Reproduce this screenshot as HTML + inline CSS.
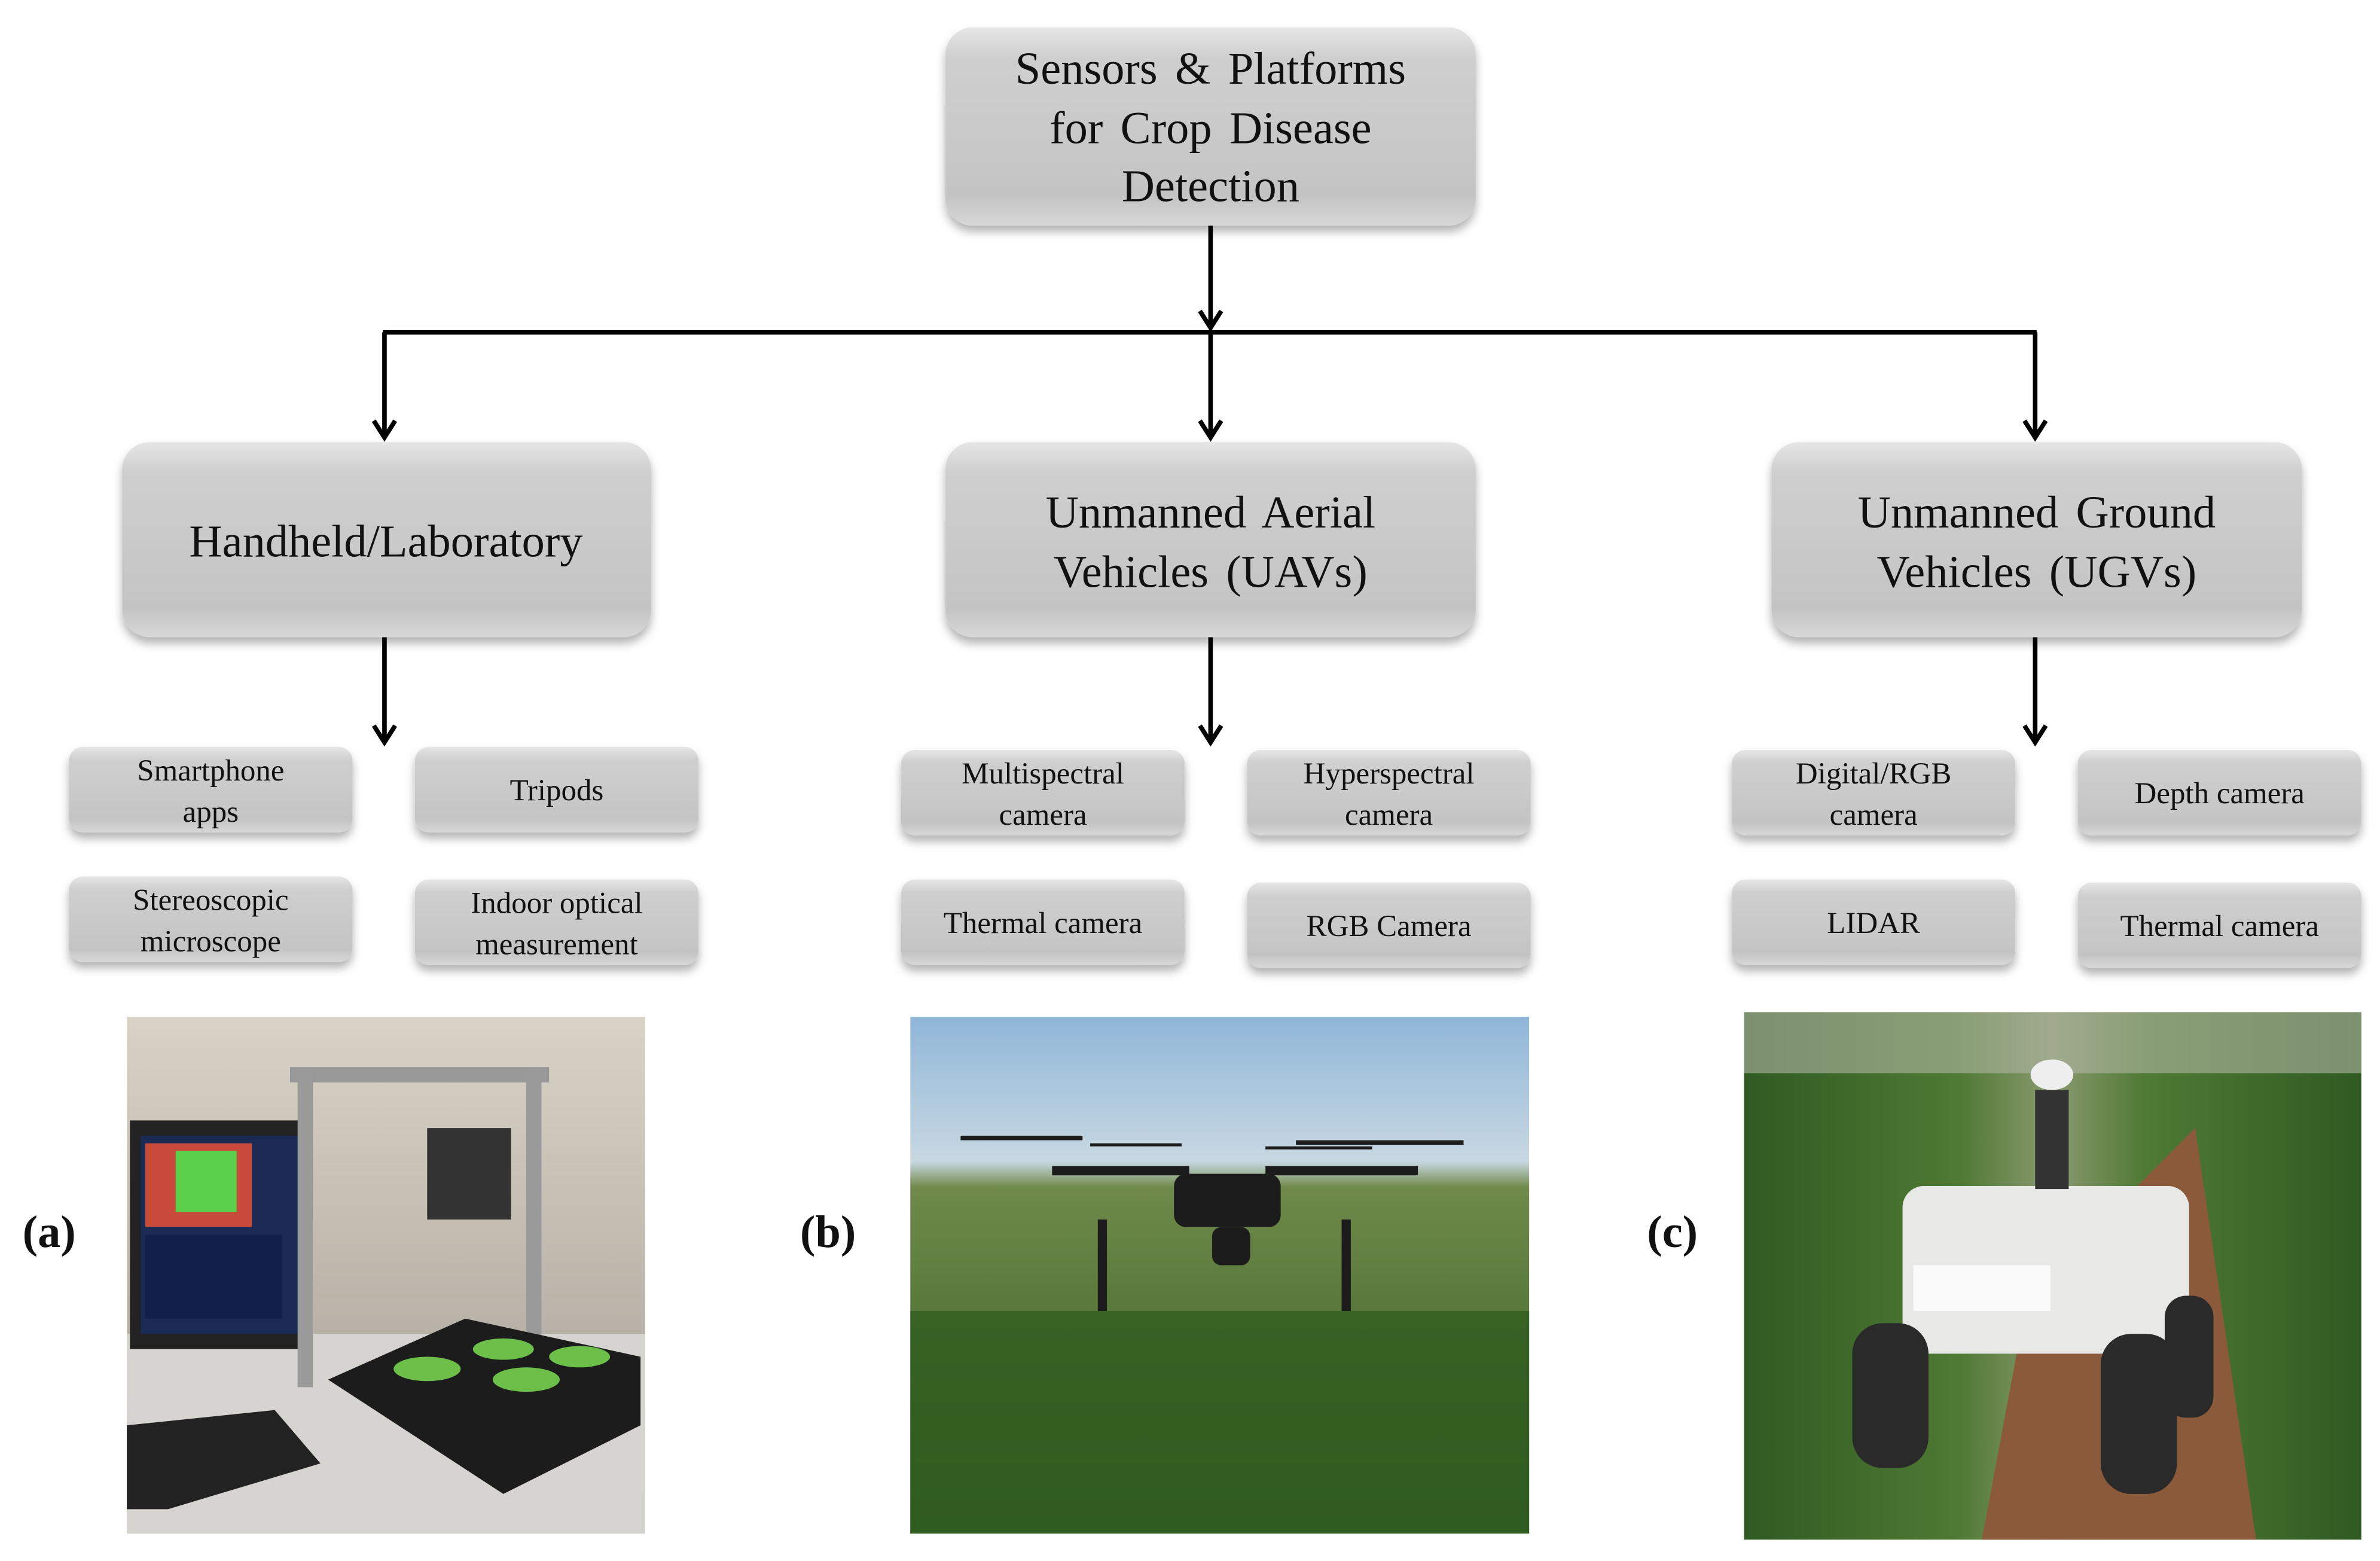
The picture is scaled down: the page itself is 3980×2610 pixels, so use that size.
<!DOCTYPE html>
<html><head><meta charset="utf-8"><style>
html,body{margin:0;padding:0;background:#fff;}
svg{display:block}
text{font-family:"Liberation Serif","Times New Roman",Times,"Nimbus Roman","DejaVu Serif",serif !important;fill:#111;}
</style></head><body>
<svg width="3980" height="2610" viewBox="0 0 1561 1024" xmlns="http://www.w3.org/2000/svg">
<defs>
<linearGradient id="g" x1="0" y1="0" x2="0" y2="1">
<stop offset="0" stop-color="#e6e6e6"/><stop offset="0.15" stop-color="#cfcfcf"/><stop offset="0.85" stop-color="#c4c4c4"/><stop offset="1" stop-color="#d8d8d8"/>
</linearGradient>
<filter id="sh" x="-10%" y="-10%" width="120%" height="130%"><feDropShadow dx="0" dy="4" stdDeviation="3" flood-color="#000" flood-opacity="0.3"/></filter>
<marker id="ar" markerWidth="16" markerHeight="18" refX="13" refY="9" orient="auto" markerUnits="userSpaceOnUse">
<path d="M2,2 L13,9 L2,16" fill="none" stroke="#000" stroke-width="3"/></marker>
<linearGradient id="sky" x1="0" y1="0" x2="0" y2="1"><stop offset="0" stop-color="#8fb6d8"/><stop offset="0.28" stop-color="#c8d8e2"/><stop offset="0.33" stop-color="#6f8a4a"/><stop offset="1" stop-color="#2e5a1e"/></linearGradient>
<linearGradient id="corn" x1="0" y1="0" x2="1" y2="0"><stop offset="0" stop-color="#2f5a22"/><stop offset="0.35" stop-color="#4f7a34"/><stop offset="0.5" stop-color="#8a9a70"/><stop offset="0.65" stop-color="#4f7a34"/><stop offset="1" stop-color="#2f5a22"/></linearGradient>
<linearGradient id="lab" x1="0" y1="0" x2="0" y2="1"><stop offset="0" stop-color="#d9d2c6"/><stop offset="0.6" stop-color="#b8b2a8"/><stop offset="1" stop-color="#8a8682"/></linearGradient>
</defs>

<g stroke="#000" stroke-width="3" fill="none">
<line x1="794" y1="148" x2="794" y2="215" marker-end="url(#ar)"/>
<line x1="251" y1="218" x2="1336" y2="218"/>
<line x1="252" y1="218" x2="252" y2="287" marker-end="url(#ar)"/>
<line x1="794" y1="218" x2="794" y2="287" marker-end="url(#ar)"/>
<line x1="1335" y1="218" x2="1335" y2="287" marker-end="url(#ar)"/>
<line x1="252" y1="418" x2="252" y2="487" marker-end="url(#ar)"/>
<line x1="794" y1="418" x2="794" y2="487" marker-end="url(#ar)"/>
<line x1="1335" y1="418" x2="1335" y2="487" marker-end="url(#ar)"/>
</g>

<g fill="url(#g)" filter="url(#sh)">
<rect x="620" y="18" width="348" height="130" rx="18"/>
<rect x="80" y="290" width="347" height="128" rx="18"/>
<rect x="620" y="290" width="348" height="128" rx="18"/>
<rect x="1162" y="290" width="348" height="128" rx="18"/>
<rect x="45" y="490" width="186" height="56" rx="9"/>
<rect x="272" y="490" width="186" height="56" rx="9"/>
<rect x="45" y="575" width="186" height="56" rx="9"/>
<rect x="272" y="577" width="186" height="56" rx="9"/>
<rect x="591" y="492" width="186" height="56" rx="9"/>
<rect x="818" y="492" width="186" height="56" rx="9"/>
<rect x="591" y="577" width="186" height="56" rx="9"/>
<rect x="818" y="579" width="186" height="56" rx="9"/>
<rect x="1136" y="492" width="186" height="56" rx="9"/>
<rect x="1363" y="492" width="186" height="56" rx="9"/>
<rect x="1136" y="577" width="186" height="56" rx="9"/>
<rect x="1363" y="579" width="186" height="56" rx="9"/>
</g>

<g font-size="30" text-anchor="middle" word-spacing="4">
<text x="794" y="55">Sensors &amp; Platforms</text>
<text x="794" y="94">for Crop Disease</text>
<text x="794" y="132">Detection</text>
<text x="253" y="365">Handheld/Laboratory</text>
<text x="794" y="346">Unmanned Aerial</text>
<text x="794" y="385">Vehicles (UAVs)</text>
<text x="1336" y="346">Unmanned Ground</text>
<text x="1336" y="385">Vehicles (UGVs)</text>
</g>
<g font-size="20" text-anchor="middle">
<text x="138" y="512">Smartphone</text><text x="138" y="539">apps</text>
<text x="365" y="525">Tripods</text>
<text x="138" y="597">Stereoscopic</text><text x="138" y="624">microscope</text>
<text x="365" y="599">Indoor optical</text><text x="365" y="626">measurement</text>
<text x="684" y="514">Multispectral</text><text x="684" y="541">camera</text>
<text x="911" y="514">Hyperspectral</text><text x="911" y="541">camera</text>
<text x="684" y="612">Thermal camera</text>
<text x="911" y="614">RGB Camera</text>
<text x="1229" y="514">Digital/RGB</text><text x="1229" y="541">camera</text>
<text x="1456" y="527">Depth camera</text>
<text x="1229" y="612">LIDAR</text>
<text x="1456" y="614">Thermal camera</text>
</g>

<g font-size="30" font-weight="bold" text-anchor="middle">
<text x="32" y="818">(a)</text>
<text x="543" y="818">(b)</text>
<text x="1097" y="818">(c)</text>
</g>

<!-- (a) lab -->
<rect x="83" y="667" width="340" height="339" fill="url(#lab)"/>
<rect x="83" y="875" width="340" height="131" fill="#d6d4d0"/>
<rect x="85" y="735" width="118" height="150" fill="#222"/>
<rect x="92" y="745" width="104" height="130" fill="#1a2a55"/>
<rect x="95" y="750" width="70" height="55" fill="#c84a3a"/>
<rect x="115" y="755" width="40" height="40" fill="#5bd04a"/>
<rect x="95" y="810" width="90" height="55" fill="#10204a"/>
<rect x="190" y="700" width="170" height="10" fill="#999"/>
<rect x="195" y="700" width="10" height="210" fill="#9a9a9a"/>
<rect x="345" y="700" width="10" height="200" fill="#9a9a9a"/>
<rect x="280" y="740" width="55" height="60" fill="#333"/>
<polygon points="215,905 305,865 420,890 420,935 330,980" fill="#1c1c1c"/>
<ellipse cx="280" cy="898" rx="22" ry="8" fill="#6cc04a"/>
<ellipse cx="330" cy="885" rx="20" ry="7" fill="#6cc04a"/>
<ellipse cx="345" cy="905" rx="22" ry="8" fill="#6cc04a"/>
<ellipse cx="380" cy="890" rx="20" ry="7" fill="#6cc04a"/>
<polygon points="83,935 180,925 210,960 110,990 83,990" fill="#222"/>

<!-- (b) drone -->
<rect x="597" y="667" width="406" height="339" fill="url(#sky)"/>
<rect x="597" y="860" width="406" height="146" fill="#2f5d1f" opacity="0.8"/>
<g fill="#1c1c1c">
<rect x="770" y="770" width="70" height="35" rx="8"/>
<rect x="690" y="765" width="90" height="6"/><rect x="830" y="765" width="100" height="6"/>
<rect x="630" y="745" width="80" height="3"/><rect x="850" y="748" width="110" height="3"/>
<rect x="715" y="750" width="60" height="2"/><rect x="830" y="752" width="70" height="2"/>
<rect x="795" y="805" width="25" height="25" rx="6"/>
<rect x="720" y="800" width="6" height="60"/><rect x="880" y="800" width="6" height="60"/>
</g>

<!-- (c) robot -->
<rect x="1144" y="664" width="405" height="346" fill="url(#corn)"/>
<polygon points="1330,850 1440,740 1480,1010 1300,1010" fill="#8a5a3a"/>
<rect x="1144" y="664" width="405" height="40" fill="#b0b6a4" opacity="0.6"/>
<rect x="1248" y="778" width="188" height="110" rx="14" fill="#e8e8e6"/>
<rect x="1255" y="830" width="90" height="30" fill="#fafafa"/>
<rect x="1335" y="715" width="22" height="65" fill="#333"/>
<ellipse cx="1346" cy="705" rx="14" ry="10" fill="#eee"/>
<rect x="1215" y="868" width="50" height="95" rx="20" fill="#2a2a2a"/>
<rect x="1378" y="875" width="50" height="105" rx="20" fill="#2a2a2a"/>
<rect x="1420" y="850" width="32" height="80" rx="14" fill="#2a2a2a"/>
</svg>
</body></html>
